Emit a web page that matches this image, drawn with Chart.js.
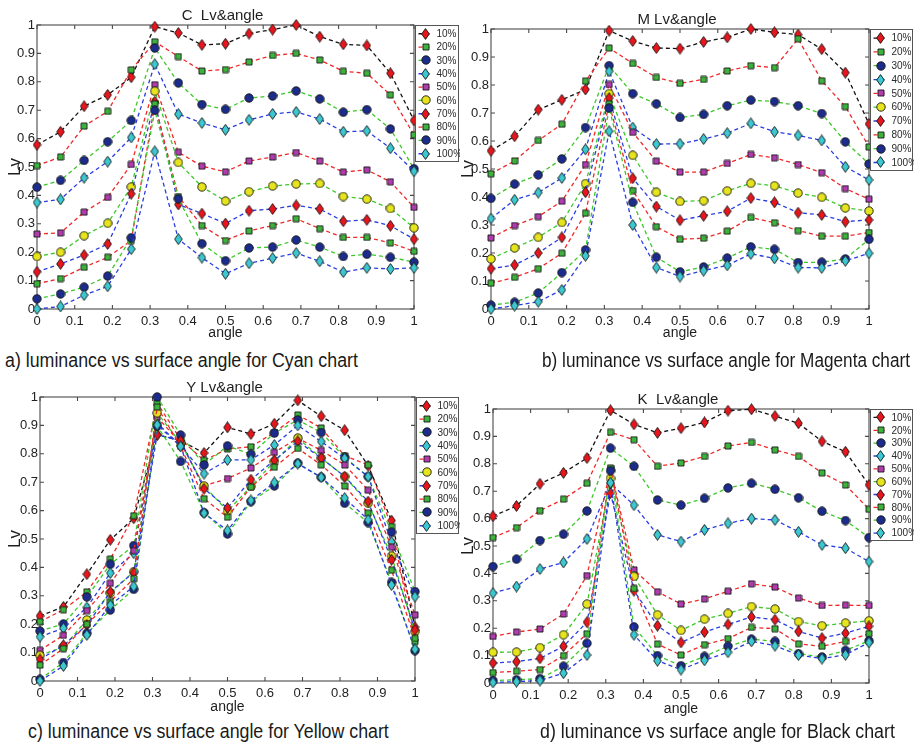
<!DOCTYPE html>
<html>
<head>
<meta charset="utf-8">
<script src="https://cdn.jsdelivr.net/npm/chart.js@4/dist/chart.umd.min.js"></script>
<style>
  html, body { margin: 0; padding: 0; background: #fff; }
  body { position: relative; width: 914px; height: 745px; overflow: hidden; }
  canvas.panel { position: absolute; }
  .cap {
    position: absolute; white-space: nowrap; color: #1a1a1a;
    font-family: "Liberation Sans Narrow", "Liberation Sans", Arial, sans-serif;
    font-size: 20px; line-height: 20px; transform-origin: 0 50%;
  }
</style>
</head>
<body>
<canvas class="panel" id="panelC" width="460" height="345" style="left:0;top:0"></canvas>
<canvas class="panel" id="panelM" width="459" height="345" style="left:455px;top:0"></canvas>
<canvas class="panel" id="panelY" width="460" height="345" style="left:0;top:375px"></canvas>
<canvas class="panel" id="panelK" width="459" height="345" style="left:455px;top:375px"></canvas>

<div class="cap" id="capC" style="left:5px;top:350px">a) luminance vs surface angle for Cyan chart</div>
<div class="cap" id="capM" style="left:542px;top:350px">b) luminance vs surface angle for Magenta chart</div>
<div class="cap" id="capY" style="left:28px;top:721px">c) luminance vs surface angle for Yellow chart</div>
<div class="cap" id="capK" style="left:540px;top:721px">d) luminance vs surface angle for Black chart</div>

<script>
// Surface angle samples (normalised), shared by all four panels
const angles = [0, 0.0625, 0.125, 0.1875, 0.25, 0.3125, 0.375, 0.4375, 0.5,
                0.5625, 0.625, 0.6875, 0.75, 0.8125, 0.875, 0.9375, 1];

// Ink coverage steps (one series each)
const coverage = ['10%', '20%', '30%', '40%', '50%', '60%', '70%', '80%', '90%', '100%'];

const xTickLabels = ['0', '0.1', '0.2', '0.3', '0.4', '0.5', '0.6', '0.7', '0.8', '0.9', '1'];
const yTickLabels = ['0', '0.1', '0.2', '0.3', '0.4', '0.5', '0.6', '0.7', '0.8', '0.9', '1'];

// Normalised luminance, one row per coverage step
const cyanLv = [
  [0.578,0.624,0.714,0.754,0.816,0.994,0.972,0.930,0.934,0.970,0.984,1.000,0.959,0.932,0.928,0.830,0.664],
  [0.505,0.535,0.644,0.696,0.842,0.941,0.889,0.838,0.843,0.870,0.893,0.900,0.877,0.837,0.830,0.754,0.613],
  [0.429,0.453,0.523,0.589,0.664,0.919,0.796,0.720,0.703,0.743,0.750,0.768,0.740,0.693,0.702,0.634,0.494],
  [0.375,0.386,0.462,0.519,0.604,0.862,0.686,0.655,0.631,0.666,0.687,0.694,0.669,0.624,0.627,0.566,0.485],
  [0.264,0.268,0.341,0.393,0.509,0.790,0.552,0.503,0.483,0.521,0.535,0.551,0.521,0.482,0.490,0.448,0.358],
  [0.185,0.200,0.258,0.302,0.430,0.767,0.516,0.430,0.380,0.413,0.433,0.440,0.442,0.396,0.387,0.354,0.286],
  [0.131,0.159,0.190,0.229,0.406,0.730,0.368,0.336,0.301,0.346,0.352,0.365,0.352,0.309,0.314,0.293,0.246],
  [0.089,0.107,0.147,0.182,0.241,0.722,0.396,0.294,0.241,0.275,0.294,0.318,0.283,0.252,0.252,0.233,0.203],
  [0.036,0.053,0.077,0.116,0.251,0.699,0.388,0.230,0.170,0.215,0.218,0.243,0.218,0.185,0.193,0.182,0.165],
  [0.000,0.009,0.049,0.080,0.211,0.555,0.246,0.181,0.124,0.161,0.179,0.197,0.168,0.130,0.145,0.141,0.145]
];

const magentaLv = [
  [0.565,0.617,0.712,0.747,0.784,0.994,0.957,0.932,0.930,0.954,0.970,1.000,0.988,0.980,0.928,0.844,0.661],
  [0.483,0.529,0.602,0.660,0.814,0.932,0.877,0.827,0.806,0.820,0.850,0.869,0.862,0.965,0.815,0.723,0.579],
  [0.395,0.446,0.479,0.536,0.648,0.869,0.769,0.733,0.684,0.695,0.726,0.746,0.741,0.726,0.698,0.597,0.518],
  [0.323,0.390,0.416,0.468,0.570,0.849,0.648,0.589,0.590,0.607,0.628,0.663,0.633,0.620,0.602,0.508,0.461],
  [0.254,0.298,0.330,0.385,0.516,0.802,0.631,0.528,0.489,0.489,0.520,0.552,0.540,0.516,0.487,0.430,0.392],
  [0.179,0.218,0.256,0.309,0.448,0.769,0.549,0.417,0.384,0.387,0.422,0.449,0.440,0.414,0.399,0.361,0.350],
  [0.144,0.157,0.200,0.256,0.417,0.753,0.467,0.366,0.317,0.333,0.349,0.396,0.381,0.344,0.336,0.312,0.318],
  [0.092,0.113,0.144,0.199,0.342,0.733,0.423,0.294,0.249,0.253,0.278,0.327,0.308,0.280,0.260,0.260,0.273],
  [0.014,0.024,0.057,0.130,0.211,0.718,0.381,0.185,0.133,0.150,0.182,0.222,0.213,0.166,0.167,0.179,0.249],
  [0.000,0.012,0.026,0.068,0.190,0.635,0.300,0.148,0.116,0.137,0.156,0.197,0.181,0.148,0.147,0.172,0.199]
];

const yellowLv = [
  [0.229,0.261,0.376,0.497,0.573,0.867,0.846,0.803,0.893,0.870,0.906,0.988,0.932,0.883,0.758,0.565,0.190],
  [0.209,0.251,0.314,0.429,0.582,0.979,0.850,0.777,0.817,0.825,0.875,0.937,0.891,0.793,0.761,0.544,0.139],
  [0.176,0.201,0.296,0.411,0.477,1.000,0.866,0.761,0.828,0.798,0.873,0.919,0.875,0.787,0.720,0.524,0.315],
  [0.156,0.186,0.259,0.380,0.450,0.908,0.828,0.730,0.778,0.779,0.831,0.900,0.843,0.784,0.720,0.489,0.297],
  [0.108,0.161,0.248,0.344,0.459,0.929,0.838,0.687,0.713,0.750,0.805,0.855,0.812,0.761,0.672,0.471,0.233],
  [0.090,0.120,0.215,0.310,0.385,0.944,0.838,0.687,0.598,0.685,0.773,0.855,0.785,0.720,0.626,0.440,0.174],
  [0.076,0.126,0.197,0.314,0.382,0.867,0.846,0.677,0.609,0.709,0.777,0.844,0.785,0.720,0.632,0.427,0.180],
  [0.056,0.114,0.200,0.280,0.360,0.965,0.826,0.642,0.577,0.683,0.753,0.819,0.761,0.687,0.591,0.390,0.150],
  [0.006,0.065,0.168,0.250,0.323,0.897,0.773,0.593,0.518,0.632,0.687,0.767,0.717,0.626,0.558,0.347,0.107],
  [0.000,0.053,0.162,0.267,0.333,0.902,0.826,0.591,0.530,0.636,0.699,0.765,0.717,0.644,0.568,0.338,0.112]
];

const blackLv = [
  [0.609,0.646,0.727,0.767,0.821,0.995,0.944,0.913,0.930,0.951,0.994,0.999,0.974,0.948,0.882,0.844,0.723],
  [0.531,0.567,0.629,0.671,0.729,0.915,0.888,0.791,0.803,0.827,0.865,0.878,0.851,0.827,0.767,0.723,0.634],
  [0.425,0.452,0.520,0.543,0.628,0.857,0.791,0.668,0.649,0.674,0.712,0.729,0.707,0.676,0.627,0.593,0.531],
  [0.328,0.352,0.416,0.440,0.526,0.729,0.649,0.541,0.516,0.559,0.583,0.600,0.595,0.552,0.504,0.492,0.443],
  [0.170,0.186,0.197,0.252,0.392,0.781,0.413,0.333,0.288,0.307,0.335,0.362,0.350,0.310,0.283,0.284,0.283],
  [0.112,0.113,0.129,0.176,0.288,0.747,0.389,0.249,0.192,0.233,0.254,0.279,0.270,0.224,0.209,0.219,0.227],
  [0.073,0.078,0.090,0.134,0.222,0.693,0.337,0.209,0.148,0.186,0.214,0.241,0.231,0.188,0.164,0.182,0.207],
  [0.038,0.043,0.049,0.100,0.180,0.785,0.345,0.142,0.102,0.140,0.162,0.203,0.198,0.143,0.134,0.152,0.180],
  [0.009,0.012,0.016,0.061,0.145,0.775,0.205,0.100,0.063,0.097,0.134,0.160,0.152,0.107,0.095,0.119,0.154],
  [0.002,0.005,0.009,0.036,0.102,0.731,0.176,0.081,0.049,0.083,0.112,0.152,0.136,0.102,0.089,0.103,0.148]
];

// Series styling: dashed line colour, marker shape and marker fill
const lineColors  = ['#111111','#f02828','#3cc828','#2a3ee0','#f02828','#3cc828','#2a3ee0','#f02828','#3cc828','#2a3ee0'];
const markerShape = ['diamond','square','circle','diamond','square','circle','diamond','square','circle','diamond'];
const markerFill  = ['#e8161c','#3cb43c','#1c2c8c','#3cc8d0','#b03cb0','#e6e41c','#e8161c','#3cb43c','#1c2c8c','#3cc8d0'];

const NARROW = '"Liberation Sans Narrow", "Liberation Sans", Arial, sans-serif';

// Small bitmap markers: a tall diamond, a square and a circle, black rim
function makeMarker(shape, fill) {
  const c = document.createElement('canvas');
  let w = 10, h = 10;
  if (shape === 'diamond') { w = 9; h = 12; }
  if (shape === 'square') { w = 8; h = 8; }
  c.width = w; c.height = h;
  const g = c.getContext('2d');
  g.fillStyle = fill;
  g.strokeStyle = '#141414';
  g.lineWidth = 0.9;
  g.beginPath();
  if (shape === 'diamond') {
    g.moveTo(w / 2, 0.6); g.lineTo(w - 0.7, h / 2); g.lineTo(w / 2, h - 0.6); g.lineTo(0.7, h / 2); g.closePath();
  } else if (shape === 'square') {
    g.rect(1, 1, w - 2, h - 2);
  } else {
    g.arc(w / 2, h / 2, w / 2 - 0.8, 0, Math.PI * 2);
  }
  g.fill();
  g.stroke();
  return c;
}
const markerImages = markerShape.map((s, i) => makeMarker(s, markerFill[i]));

// Axes box with inward ticks, panel title and boxed legend
const panelFrame = {
  id: 'panelFrame',
  beforeDatasetsDraw(chart) {
    const { ctx, chartArea: a, scales: { x, y } } = chart;
    ctx.save();
    ctx.strokeStyle = '#4a4a4a';
    ctx.lineWidth = 1.1;
    ctx.strokeRect(a.left, a.top, a.right - a.left, a.bottom - a.top);
    const L = 4;
    ctx.beginPath();
    x.ticks.forEach(t => {
      const px = x.getPixelForValue(t.value);
      ctx.moveTo(px, a.bottom); ctx.lineTo(px, a.bottom - L);
      ctx.moveTo(px, a.top); ctx.lineTo(px, a.top + L);
    });
    y.ticks.forEach(t => {
      const py = y.getPixelForValue(t.value);
      ctx.moveTo(a.left, py); ctx.lineTo(a.left + L, py);
      ctx.moveTo(a.right, py); ctx.lineTo(a.right - L, py);
    });
    ctx.stroke();
    ctx.restore();
  },
  afterDraw(chart, args, opts) {
    const { ctx, chartArea: a } = chart;
    ctx.save();
    ctx.fillStyle = '#1e1e1e';
    ctx.textAlign = 'center';
    ctx.textBaseline = 'middle';
    ctx.font = '15px ' + NARROW;
    ctx.fillText(opts.title, (a.left + a.right) / 2 - 3, a.top - 9);

    const bx = a.right + 1.5;
    const by = a.top + 0.5;
    const bw = chart.width - 1.5 - bx;
    const bh = opts.legendHeight;
    ctx.fillStyle = '#ffffff';
    ctx.fillRect(bx, by, bw, bh);
    ctx.strokeStyle = '#555555';
    ctx.lineWidth = 1;
    ctx.strokeRect(bx, by, bw, bh);
    const step = bh / 10.2;
    ctx.font = '10px ' + NARROW;
    ctx.textAlign = 'left';
    chart.data.datasets.forEach((ds, i) => {
      const cy = by + step * (0.62 + i);
      ctx.strokeStyle = ds.borderColor;
      ctx.lineWidth = 1.3;
      ctx.setLineDash(ds.borderDash);
      ctx.beginPath();
      ctx.moveTo(bx + 3, cy);
      ctx.lineTo(bx + 17, cy);
      ctx.stroke();
      ctx.setLineDash([]);
      const m = ds.pointStyle;
      ctx.drawImage(m, Math.round(bx + 10 - m.width / 2), Math.round(cy - m.height / 2));
      ctx.fillStyle = '#2a2a2a';
      ctx.fillText(ds.label, bx + 21, cy + 0.5);
    });
    ctx.restore();
  }
};

function buildPanel(canvasId, rows, title, geo) {
  const cv = document.getElementById(canvasId);
  const W = cv.width, H = cv.height;
  const datasets = rows.map((vals, i) => ({
    label: coverage[i],
    data: vals.map((v, k) => ({ x: angles[k], y: v })),
    borderColor: lineColors[i],
    borderWidth: 1.3,
    borderDash: [4, 3],
    backgroundColor: markerFill[i],
    pointStyle: markerImages[i],
    pointRadius: 5,
    pointHoverRadius: 5,
    tension: 0,
    clip: false,
    order: rows.length - i
  }));
  return new Chart(cv, {
    type: 'line',
    data: { datasets },
    plugins: [panelFrame],
    options: {
      responsive: false,
      devicePixelRatio: 1,
      animation: false,
      events: [],
      layout: { padding: { left: 0, top: geo.t, right: W - geo.r, bottom: 0 } },
      plugins: {
        legend: { display: false },
        tooltip: { enabled: false },
        title: { display: false },
        panelFrame: { title, legendHeight: geo.legendH }
      },
      scales: {
        x: {
          type: 'linear', min: 0, max: 1,
          grid: { display: false, drawTicks: false },
          border: { display: false },
          ticks: {
            stepSize: 0.1, padding: 5, autoSkip: false, maxRotation: 0,
            color: '#222', font: { size: 13, family: NARROW },
            callback: (v, i) => xTickLabels[i]
          },
          title: {
            display: true, text: 'angle', color: '#1e1e1e',
            font: { size: 14, family: NARROW, lineHeight: 1.2 },
            padding: { top: 0, bottom: geo.xTitlePad }
          },
          afterFit(s) { s.height = H - geo.b; }
        },
        y: {
          type: 'linear', min: 0, max: 1,
          grid: { display: false, drawTicks: false },
          border: { display: false },
          ticks: {
            stepSize: 0.1, padding: 2,
            color: '#222', font: { size: 13, family: NARROW },
            callback: (v, i) => yTickLabels[i]
          },
          title: {
            display: true, text: 'Lv', color: '#1e1e1e',
            font: { size: 17, family: '"Liberation Sans", Arial, sans-serif', lineHeight: 1.2 },
            padding: { top: geo.yTitlePad, bottom: 0 }
          },
          afterFit(s) { s.width = geo.l; }
        }
      }
    }
  });
}

buildPanel('panelC', cyanLv,    'C  Lv&angle', { l: 37, r: 414, t: 25, b: 309, legendH: 136, xTitlePad: 3.6, yTitlePad: 4.8 });
buildPanel('panelM', magentaLv, 'M Lv&angle',  { l: 36, r: 414, t: 29, b: 309, legendH: 141, xTitlePad: 3.6, yTitlePad: 2.8 });
buildPanel('panelY', yellowLv,  'Y Lv&angle',  { l: 40, r: 415, t: 22, b: 306, legendH: 136, xTitlePad: 4.6, yTitlePad: 4.8 });
buildPanel('panelK', blackLv,   'K  Lv&angle', { l: 38, r: 414, t: 34, b: 308, legendH: 131, xTitlePad: 2.6, yTitlePad: 2.8 });

// Caption widths: a) and b) are set individually, c) and d) follow a)
function fitCaptions() {
  const a = document.getElementById('capC');
  const b = document.getElementById('capM');
  const ka = 353 / a.offsetWidth;
  const kb = 368 / b.offsetWidth;
  a.style.transform = 'scaleX(' + ka.toFixed(4) + ')';
  b.style.transform = 'scaleX(' + kb.toFixed(4) + ')';
  ['capY', 'capK'].forEach(id => {
    document.getElementById(id).style.transform = 'scaleX(' + ka.toFixed(4) + ')';
  });
}
if (document.fonts && document.fonts.ready) document.fonts.ready.then(fitCaptions); else fitCaptions();
</script>
</body>
</html>
